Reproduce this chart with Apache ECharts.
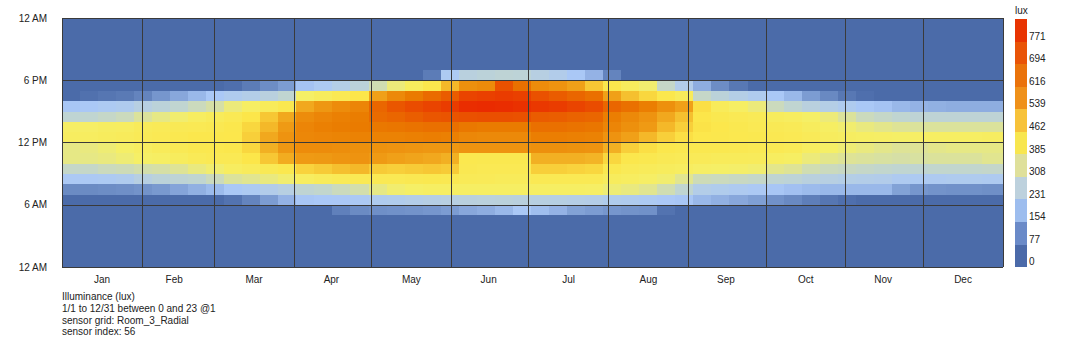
<!DOCTYPE html>
<html>
<head>
<meta charset="utf-8">
<script src="https://cdn.jsdelivr.net/npm/echarts@6/dist/echarts.min.js"></script>
<style>
html,body{margin:0;padding:0;background:#ffffff;}
#chart{width:1074px;height:345px;}
#chart svg path{shape-rendering:crispEdges;}
</style>
</head>
<body>
<div id="chart"></div>
<script>
// ---------- categories / ticks ----------
const monthNames = ['Jan','Feb','Mar','Apr','May','Jun','Jul','Aug','Sep','Oct','Nov','Dec'];
const monthStartDays = [0,31,59,90,120,151,181,212,243,273,304,334];
const monthLabelDays = [15,43,74,104,135,165,196,227,257,288,318,349];
const hourTickLabels = ['12 AM','6 AM','12 PM','6 PM','12 AM'];
const legendBreaks = [0,77,154,231,308,385,462,539,616,694,771,848];
const legendColors = ['#4b6aa9','#6a8ac8','#9dbdee','#bdd1dd','#dfe09b','#f8e64f','#f7c23a','#ef911a','#ea730b','#e95407','#e83402'];
const rampColors = ['#4b6ba9','#7393ca','#aac8f7','#c1d5d0','#f5ef67','#fce64a','#ef9c15','#ea7b00','#ea4a00','#ea2600'];
const footerLines = ['Illuminance (lux)','1/1 to 12/31 between 0 and 23 @1','sensor grid: Room_3_Radial','sensor index: 56'];

// ---------- illuminance (lux), one value per week (52 weeks), per hour of day ----------
const h05 = [0,0,0,0,0,0,0,0,0,0, 0,0,0,0,0,50,75,85,90,95, 100,110,130,140,160,190,170,150,120,110, 100,95,90,20,0,0,0,0,0,0, 0,0,0,0,0,0,0,0,0,0, 0,0];
const h06 = [0,0,0,0,0,0,0,0,0,20, 60,110,150,185,188,192,198,210,215,225, 235,240,250,252,255,250,242,238,232,228, 215,210,200,192,185,160,145,130,115,90, 70,45,25,10,0,0,0,0,0,0, 0,0];
const h07 = [75,75,80,85,95,105,125,145,165,190, 200,220,240,275,285,300,315,350,370,380, 390,390,390,390,390,390,390,390,390,385, 365,355,340,310,280,225,215,205,195,185, 175,165,160,160,160,160,120,100,95,90, 90,85];
const h08 = [195,195,200,210,240,260,270,280,300,330, 340,355,370,400,415,430,440,440,440,445, 450,445,430,425,420,420,440,440,440,440, 410,400,385,370,340,305,300,295,290,275, 265,250,240,230,225,220,205,200,205,210, 210,205];
const h09 = [290,290,300,305,315,320,335,355,370,400, 415,435,455,495,505,520,530,505,500,505, 510,505,445,440,440,440,500,500,495,490, 450,430,420,410,400,385,380,375,370,345, 335,310,300,295,290,285,280,280,285,285, 285,288];
const h10 = [350,350,355,365,380,390,410,430,440,440, 470,510,545,570,575,585,590,570,560,555, 550,540,455,450,450,450,540,540,540,535, 490,460,450,435,430,425,420,420,415,400, 390,360,345,335,330,325,320,325,330,330, 330,340];
const h11 = [350,355,365,380,400,420,435,450,455,460, 490,540,580,610,610,605,600,595,590,585, 580,580,590,590,590,590,600,600,595,590, 540,500,480,460,450,450,450,445,440,440, 430,400,380,365,355,345,335,335,345,350, 350,350];
const h12 = [400,400,410,415,430,440,450,460,460,465, 500,550,590,625,630,635,640,640,640,645, 650,645,625,620,620,620,650,650,645,640, 590,560,530,500,480,465,460,455,450,445, 440,425,405,395,390,385,380,385,390,390, 390,395];
const h13 = [385,385,395,400,420,430,435,440,445,460, 490,530,570,630,645,655,660,665,670,675, 680,680,665,660,660,660,680,680,675,670, 630,600,570,530,500,475,465,450,440,435, 430,410,390,370,355,345,335,330,330,330, 330,330];
const h14 = [275,280,290,300,330,350,370,400,420,440, 470,510,550,610,630,645,655,690,700,715, 730,735,740,745,745,740,720,715,705,700, 650,620,590,550,520,470,450,440,430,410, 400,380,360,330,300,290,280,270,270,270, 270,270];
const h15 = [185,190,200,210,240,260,280,300,320,360, 390,420,450,550,580,610,630,700,730,750, 770,790,830,835,830,820,800,790,770,750, 700,680,650,600,560,480,420,390,360,300, 280,250,230,210,190,180,160,150,145,140, 140,140];
const h16 = [0,15,25,35,60,100,130,160,190,210, 225,250,280,380,410,440,470,560,620,660, 690,720,770,780,790,780,740,720,700,680, 560,520,490,460,420,290,260,230,210,190, 160,110,70,30,10,0,0,0,0,0, 0,0];
const h17 = [0,0,0,0,0,0,0,0,0,10, 40,80,110,180,200,230,260,310,360,410, 460,530,600,615,740,680,610,590,560,510, 460,410,370,290,220,140,80,30,0,0, 0,0,0,0,0,0,0,0,0,0, 0,0];
const h18 = [0,0,0,0,0,0,0,0,0,0, 0,0,0,0,0,0,0,0,0,0, 40,200,250,260,270,265,240,220,190,150, 60,0,0,0,0,0,0,0,0,0, 0,0,0,0,0,0,0,0,0,0, 0,0];
const darkWeek = [0,0,0,0,0,0,0,0,0,0, 0,0,0,0,0,0,0,0,0,0, 0,0,0,0,0,0,0,0,0,0, 0,0,0,0,0,0,0,0,0,0, 0,0,0,0,0,0,0,0,0,0, 0,0];

const hourRows = [darkWeek,darkWeek,darkWeek,darkWeek,darkWeek,h05,h06,h07,h08,h09,h10,h11,h12,h13,h14,h15,h16,h17,h18,darkWeek,darkWeek,darkWeek,darkWeek,darkWeek];

const dayCategories = [];
for (let d = 0; d < 365; d++) dayCategories.push(String(d + 1));
const hourCategories = [];
for (let h = 0; h < 24; h++) hourCategories.push(String(h));

const cells = [];
for (let d = 0; d < 365; d++) {
  const w = Math.min(Math.floor(d / 7), 51);
  for (let h = 0; h < 24; h++) cells.push([d, h, hourRows[h][w]]);
}

const FONT = '"Liberation Sans", Arial, sans-serif';
const TXT = '#222222';
const GRIDLINE = '#3a3a3a';

const chart = echarts.init(document.getElementById('chart'), null, {renderer: 'svg'});
chart.setOption({
  animation: false,
  backgroundColor: '#ffffff',
  grid: {left: 62, right: 71, top: 18, bottom: 78, containLabel: false},
  xAxis: [{
    type: 'category', data: dayCategories, boundaryGap: true, z: 5,
    axisLine: {show: false}, axisTick: {show: false},
    axisLabel: {
      interval: function (i) { return monthLabelDays.indexOf(i) >= 0; },
      formatter: function (v, i) { const k = monthLabelDays.indexOf(i); return k >= 0 ? monthNames[k] : ''; },
      color: TXT, fontSize: 10, fontFamily: FONT, margin: 7
    },
    splitLine: {show: true, interval: function (i) { return monthStartDays.indexOf(i) >= 0; }, lineStyle: {color: GRIDLINE, width: 1}}
  }],
  yAxis: [{
    type: 'category', data: hourCategories, boundaryGap: true, z: 5,
    axisLine: {show: false}, axisTick: {show: false}, axisLabel: {show: false},
    splitLine: {show: true, interval: function (i) { return i % 6 === 0; }, lineStyle: {color: GRIDLINE, width: 1}}
  }, {
    type: 'value', min: 0, max: 24, interval: 6, position: 'left',
    axisLine: {show: false}, axisTick: {show: false}, splitLine: {show: false},
    axisLabel: {formatter: function (v) { return hourTickLabels[Math.round(v / 6)]; }, color: TXT, fontSize: 10, fontFamily: FONT, margin: 15}
  }],
  visualMap: [{
    type: 'continuous', show: false, seriesIndex: 0, dimension: 2, min: 0, max: 848,
    inRange: {color: rampColors}
  }, {
    type: 'piecewise', seriesIndex: 1, orient: 'vertical', left: 1015, top: 19, padding: 0,
    itemWidth: 12, itemHeight: 22.55, itemGap: 0, itemSymbol: 'rect', textGap: 2, align: 'left',
    hoverLink: false, selectedMode: false,
    pieces: legendColors.map(function (c, i) { return {min: legendBreaks[i], max: legendBreaks[i + 1], color: c}; }),
    formatter: function (v) { return '{a|' + v + '}'; },
    textStyle: {color: TXT, fontSize: 10, fontFamily: FONT, rich: {a: {padding: [12, 0, 0, 0], lineHeight: 10, color: TXT, fontSize: 10, fontFamily: FONT}}}
  }],
  series: [{
    type: 'heatmap', xAxisIndex: 0, yAxisIndex: 0, data: cells, progressive: 0, emphasis: {disabled: true}
  }, {
    type: 'heatmap', xAxisIndex: 0, yAxisIndex: 0, data: []
  }],
  graphic: [{
    type: 'text', left: 62, top: 291,
    style: {text: footerLines.join('\n'), font: '10px ' + FONT, fill: TXT, lineHeight: 11.7}
  }, {
    type: 'text', left: 1015, top: 5,
    style: {text: 'lux', font: '10px ' + FONT, fill: TXT}
  }]
});
</script>
</body>
</html>
